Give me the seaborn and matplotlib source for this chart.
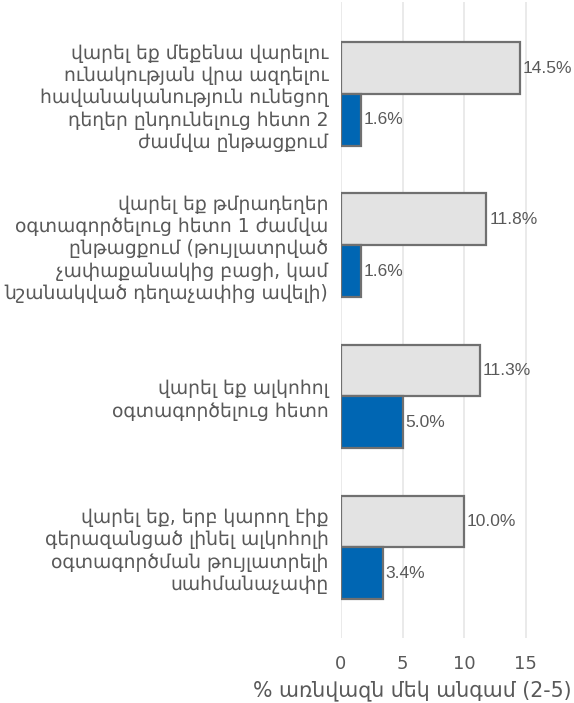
import pandas as pd
import matplotlib.pyplot as plt
import seaborn as sns

# categories (top to bottom)
categories = [
    "վարել եք մեքենա վարելու\nունակության վրա ազդելու\nհավանականություն ունեցող\nդեղեր ընդունելուց հետո 2\nժամվա ընթացքում",
    "վարել եք թմրադեղեր\nօգտագործելուց հետո 1 ժամվա\nընթացքում (թույլատրված\nչափաքանակից բացի, կամ\nնշանակված դեղաչափից ավելի)",
    "վարել եք ալկոհոլ\nօգտագործելուց հետո",
    "վարել եք, երբ կարող էիք\nգերազանցած լինել ալկոհոլի\nօգտագործման թույլատրելի\nսահմանաչափը",
]
series_names = ["grey", "blue"]
grey_values = [14.5, 11.8, 11.3, 10.0]
blue_values = [1.6, 1.6, 5.0, 3.4]
x_ticks = [0, 5, 10, 15]
x_label = "% առնվազն մեկ անգամ (2-5)"

df = pd.DataFrame({
    "category": categories * 2,
    "series": [series_names[0]] * 4 + [series_names[1]] * 4,
    "value": grey_values + blue_values,
})

sns.set_style("white")
plt.rcParams['font.family'] = ['DejaVu Sans']

fig = plt.figure(figsize=(5.74, 7.03), dpi=100)
ax = fig.add_axes([0.594, 0.0925, 0.406, 0.9047])

sns.barplot(data=df, y="category", x="value", hue="series", orient="h",
            palette=["#e3e3e3", "#0066b3"], saturation=1, width=0.685,
            edgecolor="#707070", linewidth=1.6, legend=False, ax=ax, zorder=3)

for cont in ax.containers:
    vals = [b.get_width() for b in cont]
    ax.bar_label(cont, labels=[f"{v:.1f}%" for v in vals], padding=2,
                 fontsize=12.5, color="#595959", family="Liberation Sans")

ax.set_xlim(0, 18.9)
ax.set_ylim(3.6, -0.61)
ax.set_xticks(x_ticks)
ax.grid(axis="x", color="#e6e6e6", linewidth=1.2, zorder=0)
for s in ax.spines.values():
    s.set_visible(False)
ax.tick_params(axis="x", length=7, width=2, color="#303030", labelsize=13,
               labelcolor="#595959", direction="out", pad=5)
ax.tick_params(axis="y", length=0, labelsize=13.5, labelcolor="#595959", pad=9)
for t in ax.get_yticklabels():
    t.set_horizontalalignment("right")
    t.set_linespacing(1.22)
ax.set_ylabel("")
ax.set_xlabel(x_label, fontsize=14.8, color="#595959")
ax.xaxis.label.set_va("center")
ax.xaxis.set_label_coords(0.307, -0.082)

fig.savefig("out.png", dpi=100)
